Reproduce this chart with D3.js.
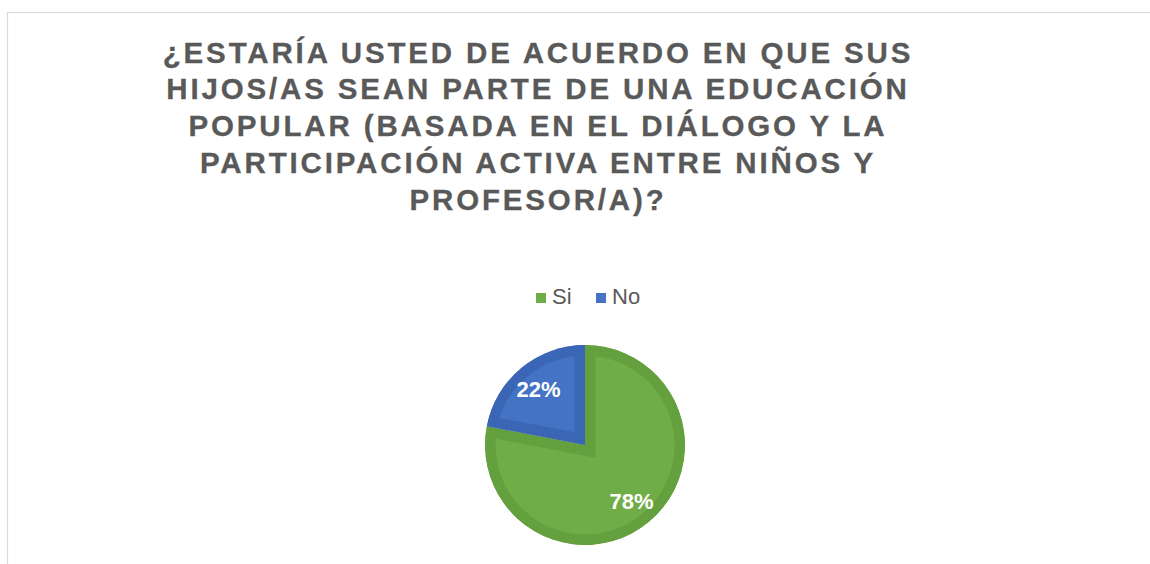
<!DOCTYPE html>
<html>
<head>
<meta charset="utf-8">
<script src="https://cdn.jsdelivr.net/npm/d3@7"></script>
<style>
  body { margin: 0; background: #fff; }
  svg { display: block; font-family: Arial, "Liberation Sans", sans-serif; }
</style>
</head>
<body>
<div id="chart"></div>
<script>
// data
const categories = ["Si", "No"];
const values = [78, 22];
const colors = ["#70ad47", "#4472c4"];
const borderColors = ["#64a03e", "#3b66b5"];
const titleLines = [
    "¿ESTARÍA USTED DE ACUERDO EN QUE SUS",
    "HIJOS/AS SEAN PARTE DE UNA EDUCACIÓN",
    "POPULAR (BASADA EN EL DIÁLOGO Y LA",
    "PARTICIPACIÓN ACTIVA ENTRE NIÑOS Y",
    "PROFESOR/A)?"
];

const svgWidth = 1150;
const svgHeight = 564;

const svg = d3.select("#chart")
    .append("svg")
    .attr("width", svgWidth)
    .attr("height", svgHeight);

// chart frame (runs off the right and bottom of the picture)
svg.append("rect")
    .attr("x", 7.5)
    .attr("y", 12.5)
    .attr("width", 1200)
    .attr("height", 600)
    .attr("fill", "#fff")
    .attr("stroke", "#d9d9d9")
    .attr("stroke-width", 1.2);

// title
svg.append("g")
    .selectAll("text")
    .data(titleLines)
    .enter()
    .append("text")
    .attr("x", 538)
    .attr("y", (d, i) => 62.5 + i * 36.9)
    .attr("text-anchor", "middle")
    .attr("font-size", "29.5px")
    .attr("font-weight", "bold")
    .attr("letter-spacing", "2.85px")
    .attr("fill", "#595959")
    .attr("stroke", "#595959")
    .attr("stroke-width", 0.3)
    .text(d => d);

// legend
const legend = svg.append("g")
    .attr("transform", "translate(536, 293)");

const legendX = d3.scaleOrdinal()
    .domain(categories)
    .range([0, 60]);

const legendItem = legend.selectAll("g")
    .data(categories)
    .enter()
    .append("g")
    .attr("transform", d => `translate(${legendX(d)}, 0)`);

legendItem.append("rect")
    .attr("width", 10)
    .attr("height", 10)
    .attr("fill", (d, i) => colors[i]);

legendItem.append("text")
    .attr("x", 16)
    .attr("y", 11)
    .attr("font-size", "22px")
    .attr("fill", "#595959")
    .text(d => d);

// pie
const cx = 585, cy = 445, radius = 100;

const pie = d3.pie().sort(null).value(d => d);
const arcs = pie(values);

const arc = d3.arc().innerRadius(0).outerRadius(radius);
const labelArc = d3.arc().innerRadius(73).outerRadius(73);

const pieGroup = svg.append("g")
    .attr("transform", `translate(${cx}, ${cy})`);

const defs = svg.append("defs");
arcs.forEach((a, i) => {
    defs.append("clipPath")
        .attr("id", "slice" + i)
        .append("path")
        .attr("d", arc(a));
});

// inner border of each slice: wide stroke clipped to the slice
pieGroup.selectAll("path.slice")
    .data(arcs)
    .enter()
    .append("path")
    .attr("class", "slice")
    .attr("d", arc)
    .attr("clip-path", (d, i) => `url(#slice${i})`)
    .attr("fill", (d, i) => colors[i])
    .attr("stroke", (d, i) => borderColors[i])
    .attr("stroke-width", 21)
    .attr("stroke-linejoin", "miter");

pieGroup.selectAll("text")
    .data(arcs)
    .enter()
    .append("text")
    .attr("transform", d => `translate(${labelArc.centroid(d)})`)
    .attr("dy", "0.36em")
    .attr("text-anchor", "middle")
    .attr("font-size", "22px")
    .attr("font-weight", "bold")
    .attr("fill", "#fff")
    .text(d => d.data + "%");
</script>
</body>
</html>
